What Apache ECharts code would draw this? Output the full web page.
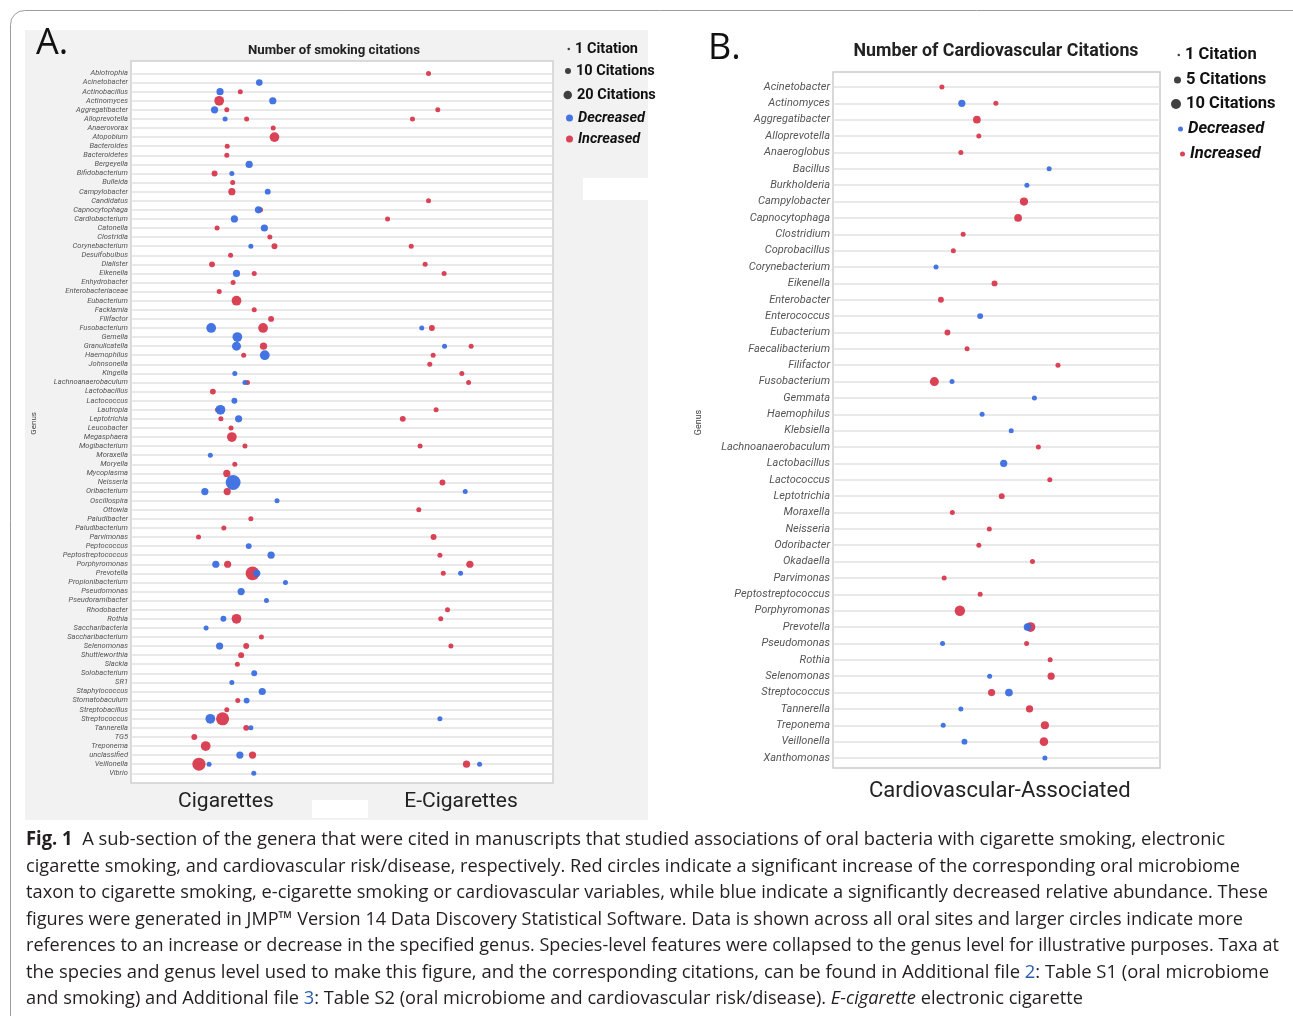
<!DOCTYPE html>
<html><head><meta charset="utf-8">
<script src="https://cdn.jsdelivr.net/npm/echarts@6/dist/echarts.min.js"></script>
<style>html,body{margin:0;padding:0;background:#fff}#c{width:1293px;height:1016px}</style>
</head><body><div id="c"></div><script>
// ---------------- DATA ----------------
const genusA = ['Abiotrophia','Acinetobacter','Actinobacillus','Actinomyces','Aggregatibacter','Alloprevotella','Anaerovorax','Atopobium','Bacteroides','Bacteroidetes','Bergeyella','Bifidobacterium','Bulleida','Campylobacter','Candidatus','Capnocytophaga','Cardiobacterium','Catonella','Clostridia','Corynebacterium','Desulfobulbus','Dialister','Eikenella','Enhydrobacter','Enterobacteriaceae','Eubacterium','Facklamia','Filifactor','Fusobacterium','Gemella','Granulicatella','Haemophilus','Johnsonella','Kingella','Lachnoanaerobaculum','Lactobacillus','Lactococcus','Lautropia','Leptotrichia','Leucobacter','Megasphaera','Mogibacterium','Moraxella','Moryella','Mycoplasma','Neisseria','Oribacterium','Oscillospira','Ottowia','Paludibacter','Paludibacterium','Parvimonas','Peptococcus','Peptostreptococcus','Porphyromonas','Prevotella','Propionibacterium','Pseudomonas','Pseudoramibacter','Rhodobacter','Rothia','Saccharibacteria','Saccharibacterium','Selenomonas','Shuttleworthia','Slackia','Solobacterium','SR1','Staphylococcus','Stomatobaculum','Streptobacillus','Streptococcus','Tannerella','TG5','Treponema','unclassified','Veillonella','Vibrio'];
const genusB = ['Acinetobacter','Actinomyces','Aggregatibacter','Alloprevotella','Anaeroglobus','Bacillus','Burkholderia','Campylobacter','Capnocytophaga','Clostridium','Coprobacillus','Corynebacterium','Eikenella','Enterobacter','Enterococcus','Eubacterium','Faecalibacterium','Filifactor','Fusobacterium','Gemmata','Haemophilus','Klebsiella','Lachnoanaerobaculum','Lactobacillus','Lactococcus','Leptotrichia','Moraxella','Neisseria','Odoribacter','Okadaella','Parvimonas','Peptostreptococcus','Porphyromonas','Prevotella','Pseudomonas','Rothia','Selenomonas','Streptococcus','Tannerella','Treponema','Veillonella','Xanthomonas'];

// [genus, jittered position across panel (0-100), number of citations]
const aDecreased = [['Acinetobacter',30.4,3],['Actinobacillus',21.1,4],['Actinomyces',33.6,4],['Aggregatibacter',19.8,4],['Alloprevotella',22.3,1],['Bergeyella',28.0,4],['Bifidobacterium',23.9,1],['Campylobacter',32.4,2],['Capnocytophaga',30.2,4],['Cardiobacterium',24.5,4],['Catonella',31.6,4],['Corynebacterium',28.4,1],['Eikenella',25.0,4],['Fusobacterium',19.0,10],['Fusobacterium',68.9,1],['Gemella',25.2,10],['Granulicatella',25.0,8],['Granulicatella',74.3,1],['Haemophilus',31.7,10],['Kingella',24.6,1],['Lachnoanaerobaculum',27.0,1],['Lactococcus',24.5,2],['Lautropia',21.2,10],['Leptotrichia',25.5,4],['Moraxella',18.8,1],['Neisseria',24.2,30],['Oribacterium',17.5,4],['Oribacterium',79.2,1],['Oscillospira',34.6,1],['Peptococcus',27.9,2],['Peptostreptococcus',33.2,4],['Porphyromonas',20.1,4],['Prevotella',29.8,4],['Prevotella',78.1,1],['Propionibacterium',36.6,1],['Pseudomonas',26.1,4],['Pseudoramibacter',32.1,1],['Rothia',21.9,2],['Saccharibacteria',17.8,1],['Selenomonas',21.0,4],['Solobacterium',29.2,2],['SR1',23.9,1],['Staphylococcus',31.1,4],['Stomatobaculum',27.4,2],['Streptococcus',18.8,10],['Streptococcus',73.2,1],['Tannerella',28.4,1],['unclassified',25.8,4],['Veillonella',18.5,1],['Veillonella',82.6,1],['Vibrio',29.1,1]];
const aIncreased = [['Abiotrophia',70.5,1],['Actinobacillus',25.9,1],['Actinomyces',20.9,10],['Aggregatibacter',22.7,1],['Aggregatibacter',72.7,1],['Alloprevotella',27.4,1],['Alloprevotella',66.7,1],['Anaerovorax',33.7,1],['Atopobium',34.0,10],['Bacteroides',22.8,1],['Bacteroidetes',22.7,1],['Bifidobacterium',19.8,2],['Bulleida',24.1,1],['Campylobacter',23.9,4],['Candidatus',70.5,1],['Capnocytophaga',30.7,1],['Cardiobacterium',60.8,1],['Catonella',20.4,1],['Clostridia',32.9,1],['Corynebacterium',34.0,2],['Corynebacterium',66.4,1],['Desulfobulbus',23.6,1],['Dialister',19.2,2],['Dialister',69.7,1],['Eikenella',29.2,1],['Eikenella',74.2,1],['Enhydrobacter',24.2,1],['Enterobacteriaceae',20.9,1],['Eubacterium',25.0,10],['Facklamia',29.2,1],['Filifactor',33.2,2],['Fusobacterium',31.3,10],['Fusobacterium',71.3,2],['Granulicatella',31.4,4],['Granulicatella',80.6,1],['Haemophilus',26.7,1],['Haemophilus',71.6,1],['Johnsonella',70.8,1],['Kingella',78.4,1],['Lachnoanaerobaculum',27.6,1],['Lachnoanaerobaculum',80.0,1],['Lactobacillus',19.4,2],['Lautropia',20.5,1],['Lautropia',72.3,1],['Leptotrichia',21.3,1],['Leptotrichia',64.4,2],['Leucobacter',23.7,1],['Megasphaera',23.9,10],['Mogibacterium',27.0,1],['Mogibacterium',68.5,1],['Moryella',24.6,1],['Mycoplasma',22.7,4],['Neisseria',73.8,2],['Oribacterium',22.8,4],['Ottowia',68.2,1],['Paludibacter',28.4,1],['Paludibacterium',22.0,1],['Parvimonas',16.0,1],['Parvimonas',71.7,2],['Peptostreptococcus',73.2,1],['Porphyromonas',22.9,4],['Porphyromonas',80.3,4],['Prevotella',28.8,25],['Prevotella',74.0,1],['Rhodobacter',75.0,1],['Rothia',25.0,10],['Rothia',73.4,1],['Saccharibacterium',30.9,1],['Selenomonas',27.3,2],['Selenomonas',75.8,1],['Shuttleworthia',26.1,2],['Slackia',25.2,1],['Stomatobaculum',25.3,1],['Streptobacillus',22.7,1],['Streptococcus',21.7,22],['Tannerella',27.3,2],['TG5',15.0,2],['Treponema',17.7,10],['unclassified',28.8,4],['Veillonella',16.1,22],['Veillonella',79.5,4]];
const bDecreased = [['Actinomyces',39.4,4],['Bacillus',66.1,1],['Burkholderia',59.3,1],['Corynebacterium',31.5,1],['Enterococcus',45.0,2],['Fusobacterium',36.4,1],['Gemmata',61.6,1],['Haemophilus',45.6,1],['Klebsiella',54.5,1],['Lactobacillus',52.2,4],['Prevotella',59.5,5],['Pseudomonas',33.5,1],['Selenomonas',47.9,1],['Streptococcus',53.8,5],['Tannerella',39.1,1],['Treponema',33.7,1],['Veillonella',40.2,2],['Xanthomonas',64.8,1]];
const bIncreased = [['Acinetobacter',33.3,1],['Actinomyces',49.8,1],['Aggregatibacter',44.0,5],['Alloprevotella',44.6,1],['Anaeroglobus',39.1,1],['Campylobacter',58.4,6],['Capnocytophaga',56.6,5],['Clostridium',39.8,1],['Coprobacillus',36.8,1],['Eikenella',49.4,2],['Enterobacter',33.0,2],['Eubacterium',35.0,2],['Faecalibacterium',41.0,1],['Filifactor',68.8,1],['Fusobacterium',31.0,8],['Lachnoanaerobaculum',62.8,1],['Lactococcus',66.3,1],['Leptotrichia',51.6,2],['Moraxella',36.5,1],['Neisseria',47.8,1],['Odoribacter',44.6,1],['Okadaella',61.0,1],['Parvimonas',34.0,1],['Peptostreptococcus',45.0,1],['Porphyromonas',38.8,12],['Prevotella',60.4,10],['Pseudomonas',59.2,1],['Rothia',66.4,1],['Selenomonas',66.7,4],['Streptococcus',48.5,4],['Tannerella',60.1,4],['Treponema',64.8,6],['Veillonella',64.5,7]];

const xLabelsA = ['Cigarettes','E-Cigarettes'];
const xLabelPosA = [22.5, 78.2];
const xLabelsB = ['Cardiovascular-Associated'];
const xLabelPosB = [51];
const legendSizeA = ['1 Citation','10 Citations','20 Citations'];
const legendSizeB = ['1 Citation','5 Citations','10 Citations'];
const titleA = 'Number of smoking citations';
const titleB = 'Number of Cardiovascular Citations';
const captionLines = [
  [['b','Fig. 1'],['n','  A sub-section of the genera that were cited in manuscripts that studied associations of oral bacteria with cigarette smoking, electronic']],
  [['n','cigarette smoking, and cardiovascular risk/disease, respectively. Red circles indicate a significant increase of the corresponding oral microbiome']],
  [['n','taxon to cigarette smoking, e-cigarette smoking or cardiovascular variables, while blue indicate a significantly decreased relative abundance. These']],
  [['n','figures were generated in JMP™ Version 14 Data Discovery Statistical Software. Data is shown across all oral sites and larger circles indicate more']],
  [['n','references to an increase or decrease in the specified genus. Species-level features were collapsed to the genus level for illustrative purposes. Taxa at']],
  [['n','the species and genus level used to make this figure, and the corresponding citations, can be found in Additional file '],['l','2'],['n',': Table S1 (oral microbiome']],
  [['n','and smoking) and Additional file '],['l','3'],['n',': Table S2 (oral microbiome and cardiovascular risk/disease). '],['i','E-cigarette'],['n',' electronic cigarette']]
];

// ---------------- STYLE / LAYOUT ----------------
const BLUE = '#3a6ee0', RED = '#d8384d';
const sizeOf = d => 2.8 + 2.2 * Math.sqrt(d[2]);
const toPts = arr => arr.map(r => [r[1], r[0], r[2]]);

const chart = echarts.init(document.getElementById('c'), null, {renderer: 'canvas'});

const capRight = [1225, 1240, 1268, 1243, 1279, 1269, null];
const CAP_FS = 19, CAP_FONT = '"Open Sans"';
const mctx = document.createElement('canvas').getContext('2d');
function segFont(k){ return (k==='i'?'italic ':'') + (k==='b'?'bold ':'') + CAP_FS + 'px ' + CAP_FONT; }
function lineW(line){ return line.reduce((s,seg)=>{ mctx.font = segFont(seg[0]); return s + mctx.measureText(seg[1]).width; },0); }
let scales = captionLines.map((ln,i)=> capRight[i] ? (capRight[i]-26)/lineW(ln) : null);
const avgScale = scales.filter(s=>s).reduce((a,b)=>a+b,0)/scales.filter(s=>s).length;
scales = scales.map(s => s || avgScale);
const richCap = {
  n:{fontSize:CAP_FS,fontFamily:CAP_FONT,fill:'#231f20',color:'#231f20'},
  b:{fontSize:CAP_FS,fontFamily:CAP_FONT,fontWeight:'bold',fill:'#231f20',color:'#231f20'},
  i:{fontSize:CAP_FS,fontFamily:CAP_FONT,fontStyle:'italic',fill:'#231f20',color:'#231f20'},
  l:{fontSize:CAP_FS,fontFamily:CAP_FONT,fill:'#2a5db0',color:'#2a5db0'}
};
const captionGraphics = captionLines.map((ln,i)=>({
  type:'text', x:26, y:840 + i*26.5, scaleX: scales[i], z: 5,
  style:{ text: ln.map(s=>'{'+s[0]+'|'+s[1]+'}').join(''), rich: richCap, textVerticalAlign:'middle', textAlign:'left', fontSize:CAP_FS, fontFamily:CAP_FONT }
}));

function makeLegend(name, cy, sz, textLeft, fs, italic, color){
  return {
    left: textLeft - 5 - sz, top: cy - 10, padding: 0, itemGap: 0,
    itemWidth: sz, itemHeight: sz, icon: 'circle', selectedMode: false,
    data: [{name: name, itemStyle: color ? {color: color} : undefined}],
    textStyle: {fontFamily:'Roboto', fontWeight:'bold', fontStyle: italic ? 'italic':'normal', fontSize: fs, color:'#111', lineHeight: 20}
  };
}
const legends = [
  makeLegend(legendSizeA[0], 49, 2.5, 575, 14.5, false),
  makeLegend(legendSizeA[1], 71, 6, 576, 14.5, false),
  makeLegend(legendSizeA[2], 95, 8.5, 577, 14.5, false),
  makeLegend('Decreased', 118, 7, 578, 14.5, true, BLUE),
  makeLegend('Increased', 139, 7, 578, 14.5, true, RED),
  makeLegend(legendSizeB[0], 55, 2.5, 1185, 16.5, false),
  makeLegend(legendSizeB[1], 80, 7, 1186, 16.5, false),
  makeLegend(legendSizeB[2], 104, 10, 1186, 16.5, false),
  makeLegend('Decreased', 129, 5, 1188, 16.5, true, BLUE),
  makeLegend('Increased', 154, 5, 1190, 16.5, true, RED)
];

const yAxisCommon = {
  type:'category', inverse:true, boundaryGap:false,
  axisLine:{show:false}, axisTick:{show:false},
  splitLine:{show:true, lineStyle:{color:'#e2e2e2', width:1.6}},
  nameLocation:'middle', nameRotate:90
};

const option = {
  animation:false,
  backgroundColor:'#ffffff',
  textStyle:{fontFamily:'Roboto'},
  grid:[
    {left:131, width:422, top:73.5, height:699.8},
    {left:833, width:327, top:87, height:671}
  ],
  xAxis:[
    {gridIndex:0, type:'value', min:0, max:100, splitLine:{show:false}, axisLine:{show:false}, axisTick:{show:false},
     axisLabel:{customValues:xLabelPosA, formatter:v=>{const i=xLabelPosA.indexOf(v);return i>=0?xLabelsA[i]:'';}, margin:18, fontSize:21, color:'#222', fontFamily:'Roboto'}},
    {gridIndex:1, type:'value', min:0, max:100, splitLine:{show:false}, axisLine:{show:false}, axisTick:{show:false},
     axisLabel:{customValues:xLabelPosB, formatter:v=>{const i=xLabelPosB.indexOf(v);return i>=0?xLabelsB[i]:'';}, margin:22, fontSize:22, color:'#222', fontFamily:'Roboto'}}
  ],
  yAxis:[
    Object.assign({}, yAxisCommon, {gridIndex:0, data:genusA, name:'Genus', nameGap:93,
      nameTextStyle:{fontSize:8, color:'#444'},
      axisLabel:{interval:0, fontSize:7.5, fontStyle:'italic', color:'#555', margin:3}}),
    Object.assign({}, yAxisCommon, {gridIndex:1, data:genusB, name:'Genus', nameGap:130,
      nameTextStyle:{fontSize:9, color:'#444'},
      axisLabel:{interval:0, fontSize:11, fontStyle:'italic', color:'#555', margin:3}})
  ],
  legend: legends,
  series:[
    {name:legendSizeA[0], type:'scatter', data:[], itemStyle:{color:'#111'}},
    {name:legendSizeA[1], type:'scatter', data:[], itemStyle:{color:'#111'}},
    {name:legendSizeA[2], type:'scatter', data:[], itemStyle:{color:'#111'}},
    {name:legendSizeB[1], type:'scatter', data:[], itemStyle:{color:'#111'}},
    {name:'Increased', type:'scatter', xAxisIndex:0, yAxisIndex:0, data:toPts(aIncreased), symbolSize:sizeOf, itemStyle:{color:RED, opacity:0.95}},
    {name:'Decreased', type:'scatter', xAxisIndex:0, yAxisIndex:0, data:toPts(aDecreased), symbolSize:sizeOf, itemStyle:{color:BLUE, opacity:0.95}},
    {name:'Increased', type:'scatter', xAxisIndex:1, yAxisIndex:1, data:toPts(bIncreased), symbolSize:sizeOf, itemStyle:{color:RED, opacity:0.95}},
    {name:'Decreased', type:'scatter', xAxisIndex:1, yAxisIndex:1, data:toPts(bDecreased), symbolSize:sizeOf, itemStyle:{color:BLUE, opacity:0.95}}
  ],
  graphic:[
    {type:'rect', z:-10, silent:true, shape:{x:25, y:30, width:623, height:790}, style:{fill:'#f2f2f2'}},
    {type:'rect', z:-9, silent:true, shape:{x:583, y:178, width:65, height:22}, style:{fill:'#ffffff'}},
    {type:'rect', z:-9, silent:true, shape:{x:312, y:800, width:56, height:18}, style:{fill:'#ffffff'}},
    {type:'rect', z:-8, silent:true, shape:{x:131, y:61, width:422, height:722}, style:{fill:'#ffffff', stroke:'#cfcfcf', lineWidth:1.5}},
    {type:'rect', z:-8, silent:true, shape:{x:833, y:72, width:327, height:696}, style:{fill:'#ffffff', stroke:'#cccccc', lineWidth:1.5}},
    {type:'text', x:36, y:44, style:{text:'A.', fontSize:36, fontFamily:'Open Sans', fill:'#111', textVerticalAlign:'middle'}},
    {type:'text', x:708, y:49, style:{text:'B.', fontSize:36, fontFamily:'Open Sans', fill:'#111', textVerticalAlign:'middle'}},
    {type:'text', x:334, y:51, style:{text:titleA, fontSize:13.2, fontWeight:'bold', fontFamily:'Roboto', fill:'#222', textAlign:'center', textVerticalAlign:'middle'}},
    {type:'text', x:996, y:52, style:{text:titleB, fontSize:17.8, fontWeight:'bold', fontFamily:'Roboto', fill:'#222', textAlign:'center', textVerticalAlign:'middle'}},
    {type:'rect', z:10, silent:true, shape:{x:10.5, y:10.5, width:1300, height:1030, r:14}, style:{fill:'none', stroke:'#9c9c9c', lineWidth:1}}
  ].concat(captionGraphics)
};
chart.setOption(option);
</script></body></html>
